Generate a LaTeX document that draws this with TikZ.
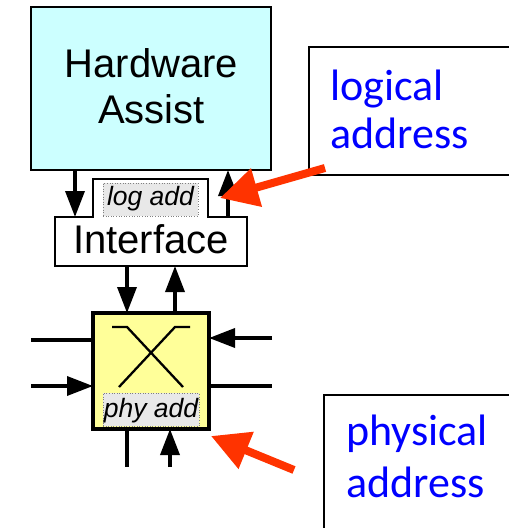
\documentclass[tikz,border=0pt]{standalone}
\usepackage{fontspec}
\setmainfont{Liberation Sans}
\newfontfamily\notefont{Carlito}
\usetikzlibrary{arrows.meta}
\definecolor{hwcyan}{HTML}{CCFFFF}
\definecolor{xbyellow}{HTML}{FFFF99}
\definecolor{tagfill}{HTML}{E8E8E8}
\definecolor{noteblue}{HTML}{0000FF}
\definecolor{pointred}{HTML}{FF3300}
\begin{document}
\begin{tikzpicture}[x=1pt,y=-1pt,
  box/.style={draw, inner sep=0pt, outer sep=0pt, anchor=north west},
  bigtext/.style={font=\fontsize{40}{44}\selectfont, inner sep=0pt, anchor=base},
  tagbox/.style={box, fill=tagfill, draw=gray, dotted, line width=0.6pt},
  tagtext/.style={font=\fontsize{26.5}{30}\selectfont\itshape, inner sep=0pt, anchor=base},
  notetext/.style={font=\notefont\fontsize{44}{48}\selectfont, text=noteblue, inner sep=0pt, anchor=base west},
  wire/.style={line width=3.5pt},
  arr/.style={wire, -{Triangle[length=26pt,width=19pt]}},
  pointer/.style={draw=pointred, line width=8pt, -{Triangle[length=38pt,width=38pt]}, pointred},
]
\useasboundingbox (0,0) rectangle (509,528);

% Hardware assist block
\node[box, fill=hwcyan, line width=2.5pt, minimum width=240pt, minimum height=163pt] (hw) at (31,7) {};
\node[bigtext] (hw1) at (151.5,77) {Hardware};
\node[bigtext] (hw2) at (151.5,123) {Assist};

% Interface block with its tab
\node[box, draw=none, minimum width=192pt, minimum height=49pt] (iface) at (55,217) {};
\coordinate (tabL) at (93,179);
\coordinate (tabR) at (208,179);
\draw[fill=white, line width=2.5pt] (iface.south west) -- (iface.north west) -- (tabL |- iface.north)
  -- (tabL) -- (tabR) -- (tabR |- iface.north) -- (iface.north east) -- (iface.south east) -- cycle;
\node[bigtext] (ifacetext) at (151,253) {Interface};
\node[tagbox, minimum width=95pt, minimum height=33pt] (logtag) at (103,183) {};
\node[tagtext] (logtagtext) at (150.5,205) {log add};

% Crossbar switch
\node[box, fill=xbyellow, line width=4pt, minimum width=116pt, minimum height=116pt] (xbar) at (93,313) {};
\begin{scope}[shift={(xbar.north west)}, line width=2.3pt]
  \draw (19,14) -- (34,14) -- (90,74);
  \draw (97,14) -- (82,14) -- (26,74);
\end{scope}
\node[tagbox, minimum width=96pt, minimum height=33pt] (phytag) at (103,393) {};
\node[tagtext] (phytagtext) at (151,417) {phy add};

% Links between blocks
\coordinate (c1) at (75,0);
\coordinate (c2) at (228,0);
\coordinate (c3) at (127,0);
\coordinate (c4) at (175,0);
\draw[arr] (c1 |- hw.south) -- (c1 |- iface.north);
\draw[arr] (c2 |- iface.north) -- (c2 |- hw.south);
\draw[arr] (c3 |- iface.south) -- (c3 |- xbar.north);
\draw[arr] (c4 |- xbar.north) -- (c4 |- iface.south);

% Crossbar ports
\coordinate (w1) at (31,340);
\coordinate (w2) at (31,386);
\coordinate (e1) at (272,338);
\coordinate (e2) at (272,386);
\coordinate (s1) at (127,467);
\coordinate (s2) at (170,467);
\draw[wire] (w1) -- (w1 -| xbar.west);
\draw[arr] (w2) -- (w2 -| xbar.west);
\draw[arr] (e1) -- (e1 -| xbar.east);
\draw[wire] (e2 -| xbar.east) -- (e2);
\draw[wire] (s1 |- xbar.south) -- (s1);
\draw[arr] (s2) -- (s2 |- xbar.south);

% Callouts
\node[box, line width=2pt, fill=white, minimum width=215pt, minimum height=128pt] (logical) at (309,47) {};
\node[notetext] (logical1) at (330,100) {logical};
\node[notetext] (logical2) at (330,148) {address};
\node[box, line width=2pt, fill=white, minimum width=200pt, minimum height=150pt] (physical) at (324,395) {};
\node[notetext] (physical1) at (346,445) {physical};
\node[notetext] (physical2) at (346,497) {address};

% Red pointers
\coordinate (lp) at (325,168);
\coordinate (lptip) at (220,198);
\coordinate (pp) at (294,470);
\coordinate (pptip) at (211,436);
\draw[pointer] (lp) -- (lptip);
\draw[pointer] (pp) -- (pptip);
\end{tikzpicture}
\end{document}
